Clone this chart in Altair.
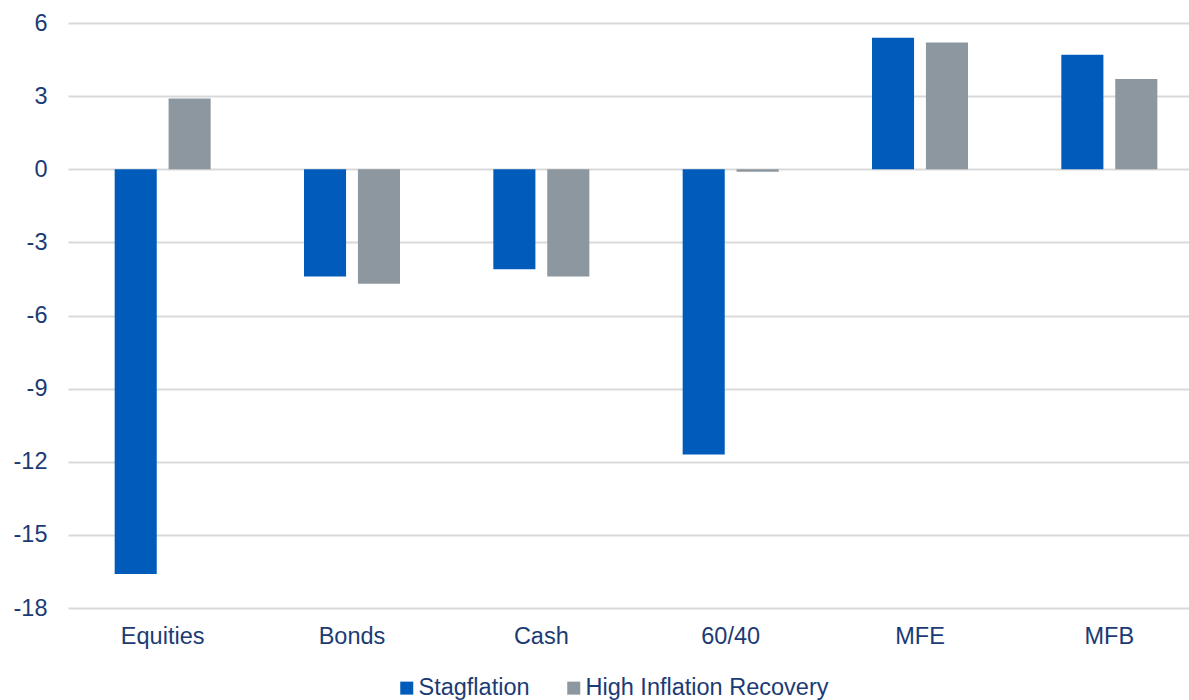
import altair as alt
import pandas as pd

categories = ["Equities", "Bonds", "Cash", "60/40", "MFE", "MFB"]
stagflation = [-16.6, -4.4, -4.1, -11.7, 5.4, 4.7]
recovery = [2.9, -4.7, -4.4, -0.1, 5.2, 3.7]
series = ["Stagflation", "High Inflation Recovery"]
colors = ["#005BBB", "#8C979F"]
y_ticks = [-18, -15, -12, -9, -6, -3, 0, 3, 6]

rows = []
for c, s, r in zip(categories, stagflation, recovery):
    rows.append({"cat": c, "series": series[0], "value": s})
    rows.append({"cat": c, "series": series[1], "value": r})
df = pd.DataFrame(rows)

FONT = "Liberation Sans"
TXT = "#1C3B74"
FS = 23.5

chart = alt.Chart(df).mark_bar().encode(
    x=alt.X("cat:N", sort=categories, title=None,
            scale=alt.Scale(range=[-1, 1135], paddingInner=0.493, paddingOuter=0.2465),
            axis=alt.Axis(labelAngle=0, labelFontSize=FS, labelColor=TXT, labelFont=FONT,
                          domain=False, ticks=False, grid=False, labelPadding=16)),
    xOffset=alt.XOffset("series:N", sort=series, scale=alt.Scale(paddingInner=0.22, paddingOuter=0)),
    y=alt.Y("value:Q", title=None,
            scale=alt.Scale(domain=[-18, 6], nice=False, zero=False),
            axis=alt.Axis(values=y_ticks, labelFontSize=FS, labelColor=TXT, labelFont=FONT,
                          labelExpr="'' + datum.value",
                          domain=False, ticks=False, grid=True, gridColor="#D9D9D9",
                          gridWidth=2, labelPadding=22)),
    color=alt.Color("series:N", sort=series,
                    scale=alt.Scale(domain=series, range=colors),
                    legend=alt.Legend(title=None, orient="none", direction="horizontal",
                                      legendX=326, legendY=653,
                                      symbolType="square", symbolSize=169,
                                      symbolStrokeWidth=0, labelFontSize=FS,
                                      labelColor=TXT, labelFont=FONT, labelLimit=0,
                                      labelOffset=0, columnPadding=32)),
).properties(
    width=1120, height=585,
    autosize=alt.AutoSizeParams(type="none"),
    padding={"left": 69, "top": 23, "right": 0, "bottom": 92},
).configure_view(stroke=None)

chart.save("out.html", embed_options={"renderer": "svg", "actions": False})
